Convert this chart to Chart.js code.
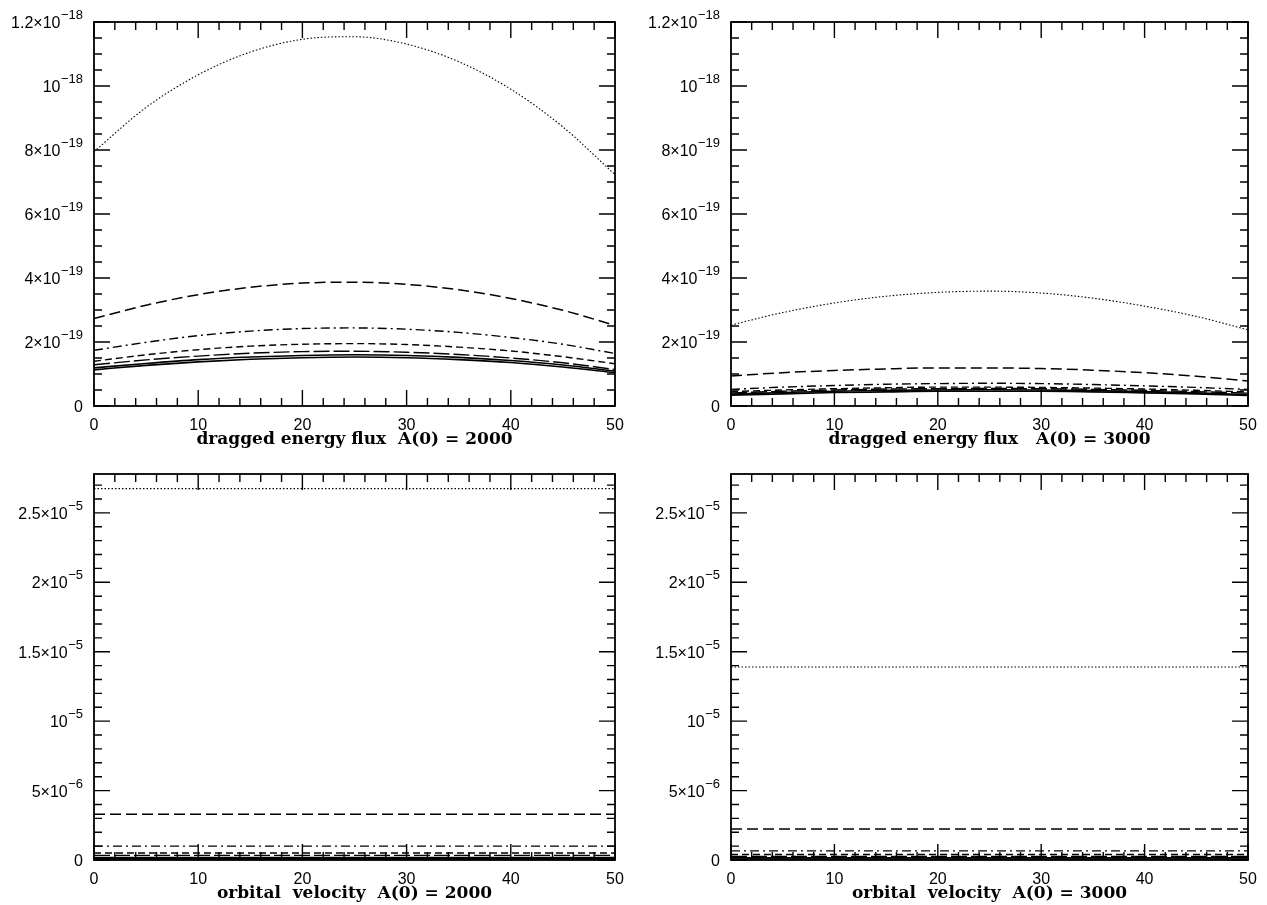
<!DOCTYPE html>
<html>
<head>
<meta charset="utf-8">
<script src="https://cdn.jsdelivr.net/npm/chart.js@4/dist/chart.umd.min.js"></script>
<style>
html,body{margin:0;padding:0;background:#fff;}
body{width:1267px;height:905px;position:relative;overflow:hidden;}
canvas{position:absolute;}
</style>
</head>
<body>
<canvas id="c1" width="633" height="450" style="left:0;top:0"></canvas>
<canvas id="c2" width="634" height="450" style="left:633px;top:0"></canvas>
<canvas id="c3" width="633" height="453" style="left:0;top:452px"></canvas>
<canvas id="c4" width="634" height="453" style="left:633px;top:452px"></canvas>
<script>
// ---------- DATA ----------
const xs = [0, 5, 10, 15, 20, 25, 30, 35, 40, 45, 50];

// Top-left: dragged energy flux, A(0)=2000 (units of 1e-19)
const fluxA2000_dotted   = [7.95, 9.33, 10.35, 11.06, 11.46, 11.54, 11.31, 10.76, 9.90, 8.72, 7.23];
const fluxA2000_dashed   = [2.73, 3.15, 3.48, 3.71, 3.84, 3.87, 3.80, 3.63, 3.36, 2.99, 2.52];
const fluxA2000_dashdot  = [1.74, 1.99, 2.20, 2.34, 2.42, 2.44, 2.40, 2.30, 2.14, 1.93, 1.64];
const fluxA2000_dashed2  = [1.40, 1.60, 1.76, 1.87, 1.93, 1.95, 1.92, 1.84, 1.72, 1.54, 1.32];
const fluxA2000_longdash = [1.29, 1.44, 1.56, 1.65, 1.70, 1.71, 1.68, 1.61, 1.50, 1.35, 1.14];
const fluxA2000_solid    = [1.19, 1.33, 1.45, 1.53, 1.58, 1.60, 1.58, 1.52, 1.42, 1.28, 1.09];
const fluxA2000_solid2   = [1.13, 1.27, 1.38, 1.46, 1.51, 1.53, 1.51, 1.45, 1.36, 1.22, 1.04];

// Top-right: dragged energy flux, A(0)=3000 (units of 1e-19)
const fluxA3000_dotted   = [2.53, 2.92, 3.22, 3.43, 3.55, 3.59, 3.53, 3.37, 3.12, 2.80, 2.38];
const fluxA3000_dashed   = [0.94, 1.04, 1.11, 1.16, 1.19, 1.19, 1.17, 1.12, 1.04, 0.93, 0.78];
const fluxA3000_dashdot  = [0.52, 0.59, 0.64, 0.68, 0.70, 0.71, 0.70, 0.67, 0.63, 0.58, 0.52];
const fluxA3000_dashed2  = [0.45, 0.50, 0.54, 0.57, 0.59, 0.59, 0.58, 0.56, 0.53, 0.49, 0.44];
const fluxA3000_longdash = [0.41, 0.46, 0.50, 0.53, 0.54, 0.55, 0.54, 0.52, 0.49, 0.45, 0.40];
const fluxA3000_solid    = [0.37, 0.42, 0.46, 0.49, 0.50, 0.51, 0.50, 0.48, 0.45, 0.41, 0.36];
const fluxA3000_solid2   = [0.34, 0.38, 0.42, 0.44, 0.46, 0.46, 0.46, 0.44, 0.41, 0.38, 0.33];

// Bottom-left: orbital velocity, A(0)=2000 (units of 1e-6)
const velA2000_dotted   = [26.75, 26.75, 26.75, 26.75, 26.75, 26.75, 26.75, 26.75, 26.75, 26.75, 26.75];
const velA2000_dashed   = [3.30, 3.30, 3.30, 3.30, 3.30, 3.30, 3.30, 3.30, 3.30, 3.30, 3.30];
const velA2000_dashdot  = [1.00, 1.00, 1.00, 1.00, 1.00, 1.00, 1.00, 1.00, 1.00, 1.00, 1.00];
const velA2000_dashed2  = [0.50, 0.50, 0.50, 0.50, 0.50, 0.50, 0.50, 0.50, 0.50, 0.50, 0.50];
const velA2000_longdash = [0.33, 0.33, 0.33, 0.33, 0.33, 0.33, 0.33, 0.33, 0.33, 0.33, 0.33];
const velA2000_solid    = [0.18, 0.18, 0.18, 0.18, 0.18, 0.18, 0.18, 0.18, 0.18, 0.18, 0.18];
const velA2000_solid2   = [0.08, 0.08, 0.08, 0.08, 0.08, 0.08, 0.08, 0.08, 0.08, 0.08, 0.08];

// Bottom-right: orbital velocity, A(0)=3000 (units of 1e-6)
const velA3000_dotted   = [13.9, 13.9, 13.9, 13.9, 13.9, 13.9, 13.9, 13.9, 13.9, 13.9, 13.9];
const velA3000_dashed   = [2.23, 2.23, 2.23, 2.23, 2.23, 2.23, 2.23, 2.23, 2.23, 2.23, 2.23];
const velA3000_dashdot  = [0.66, 0.66, 0.66, 0.66, 0.66, 0.66, 0.66, 0.66, 0.66, 0.66, 0.66];
const velA3000_dashed2  = [0.40, 0.40, 0.40, 0.40, 0.40, 0.40, 0.40, 0.40, 0.40, 0.40, 0.40];
const velA3000_longdash = [0.26, 0.26, 0.26, 0.26, 0.26, 0.26, 0.26, 0.26, 0.26, 0.26, 0.26];
const velA3000_solid    = [0.15, 0.15, 0.15, 0.15, 0.15, 0.15, 0.15, 0.15, 0.15, 0.15, 0.15];
const velA3000_solid2   = [0.07, 0.07, 0.07, 0.07, 0.07, 0.07, 0.07, 0.07, 0.07, 0.07, 0.07];

// Tick values / labels ("^" marks the exponent part)
const xTickValues = [0, 10, 20, 30, 40, 50];
const xTickLabels = ['0', '10', '20', '30', '40', '50'];
const fluxTickValues = [0, 2, 4, 6, 8, 10, 12];
const fluxTickLabels = ['0', '2×10^−19', '4×10^−19', '6×10^−19', '8×10^−19', '10^−18', '1.2×10^−18'];
const velTickValues = [0, 5, 10, 15, 20, 25];
const velTickLabels = ['0', '5×10^−6', '10^−5', '1.5×10^−5', '2×10^−5', '2.5×10^−5'];

const titles = [
  'dragged energy flux  A(0) = 2000',
  'dragged energy flux   A(0) = 3000',
  'orbital  velocity  A(0) = 2000',
  'orbital  velocity  A(0) = 3000'
];

// ---------- STYLE ----------
const styles = [
  {dash: [1.5, 2], w: 1.1},      // dotted
  {dash: [11, 5], w: 1.5},       // dashed
  {dash: [9, 4, 2, 4], w: 1.4},  // dash-dot
  {dash: [7, 4], w: 1.4},        // short dashed
  {dash: [16, 4], w: 1.4},       // long dashed
  {dash: [], w: 1.6},            // solid
  {dash: [], w: 1.6}             // solid
];

const FAMILY = '"Liberation Sans", Arial, sans-serif';
const tickFont = {family: FAMILY, size: 16};
const titleFont = {family: '"DejaVu Serif", serif', size: 17, weight: 'bold'};

const framePlugin = {
  id: 'frame',
  afterDraw(chart, args, opts) {
    const ctx = chart.ctx, a = chart.chartArea;
    const xs_ = chart.scales.x, ys_ = chart.scales.y;
    ctx.save();
    ctx.strokeStyle = '#000';
    ctx.lineWidth = 1.8;
    ctx.setLineDash([]);
    ctx.strokeRect(a.left, a.top, a.right - a.left, a.bottom - a.top);
    ctx.lineWidth = 1.4;
    ctx.beginPath();
    for (let v = xs_.min; v <= xs_.max + 1e-9; v += opts.xMinor) {
      const p = xs_.getPixelForValue(v);
      const major = Math.abs(v / opts.xMajor - Math.round(v / opts.xMajor)) < 1e-6;
      const L = major ? 16 : 8;
      ctx.moveTo(p, a.bottom); ctx.lineTo(p, a.bottom - L);
      ctx.moveTo(p, a.top); ctx.lineTo(p, a.top + L);
    }
    for (let v = ys_.min; v <= ys_.max + 1e-9; v += opts.yMinor) {
      const p = ys_.getPixelForValue(v);
      const major = Math.abs(v / opts.yMajor - Math.round(v / opts.yMajor)) < 1e-6;
      const L = major ? 16 : 8;
      ctx.moveTo(a.left, p); ctx.lineTo(a.left + L, p);
      ctx.moveTo(a.right, p); ctx.lineTo(a.right - L, p);
    }
    ctx.stroke();
    // y tick labels with raised exponents
    ctx.fillStyle = '#000';
    ctx.textBaseline = 'alphabetic';
    ys_.ticks.forEach(t => {
      const idx = opts.yValues.indexOf(t.value);
      if (idx < 0) return;
      const parts = opts.yLabels[idx].split('^');
      const p = ys_.getPixelForValue(t.value);
      let xr = a.left - 11;
      const baseY = p + 6;
      if (parts.length > 1) {
        ctx.font = '13px ' + FAMILY;
        const ew = ctx.measureText(parts[1]).width;
        ctx.textAlign = 'left';
        ctx.fillText(parts[1], xr - ew, baseY - 9);
        xr -= ew + 0.5;
      }
      ctx.font = '16px ' + FAMILY;
      ctx.textAlign = 'right';
      ctx.fillText(parts[0], xr, baseY);
    });
    ctx.restore();
  }
};

function makeChart(id, seriesList, yMax, yTickValues, yTickLabels, yMinor, yMajor, yWidth, xHeight, padRight, title, titleBottom) {
  const datasets = seriesList.map((s, i) => ({
    data: xs.map((x, j) => ({x: x, y: s[j]})),
    borderColor: '#000',
    borderWidth: styles[i].w,
    borderDash: styles[i].dash,
    pointRadius: 0,
    tension: 0.4,
    cubicInterpolationMode: 'monotone',
    fill: false
  }));
  return new Chart(document.getElementById(id), {
    type: 'line',
    data: {datasets},
    plugins: [framePlugin],
    options: {
      responsive: false,
      animation: false,
      layout: {padding: {top: 22, right: padRight, left: 0, bottom: 0}},
      plugins: {legend: {display: false}, tooltip: {enabled: false},
        frame: {xMinor: 2, xMajor: 10, yMinor: yMinor, yMajor: yMajor, yValues: yTickValues, yLabels: yTickLabels}},
      scales: {
        x: {
          type: 'linear', min: 0, max: 50,
          grid: {display: false}, border: {display: false},
          afterBuildTicks: s => { s.ticks = xTickValues.map(v => ({value: v})); },
          afterFit: s => { s.height = xHeight; },
          ticks: {
            color: '#000', font: tickFont, padding: 2, maxRotation: 0, autoSkip: false,
            callback: v => xTickLabels[xTickValues.indexOf(v)]
          },
          title: {display: true, text: title, color: '#000', font: titleFont, padding: {top: 0, bottom: titleBottom}}
        },
        y: {
          type: 'linear', min: 0, max: yMax,
          grid: {display: false}, border: {display: false},
          afterBuildTicks: s => { s.ticks = yTickValues.map(v => ({value: v})); },
          afterFit: s => { s.width = yWidth; },
          ticks: {display: false}
        }
      }
    }
  });
}

makeChart('c1',
  [fluxA2000_dotted, fluxA2000_dashed, fluxA2000_dashdot, fluxA2000_dashed2, fluxA2000_longdash, fluxA2000_solid, fluxA2000_solid2],
  12, fluxTickValues, fluxTickLabels, 0.5, 2, 94, 44, 18, titles[0], 0);
makeChart('c2',
  [fluxA3000_dotted, fluxA3000_dashed, fluxA3000_dashdot, fluxA3000_dashed2, fluxA3000_longdash, fluxA3000_solid, fluxA3000_solid2],
  12, fluxTickValues, fluxTickLabels, 0.5, 2, 98, 44, 19, titles[1], 0);
makeChart('c3',
  [velA2000_dotted, velA2000_dashed, velA2000_dashdot, velA2000_dashed2, velA2000_longdash, velA2000_solid, velA2000_solid2],
  27.8, velTickValues, velTickLabels, 1, 5, 94, 45, 18, titles[2], 1);
makeChart('c4',
  [velA3000_dotted, velA3000_dashed, velA3000_dashdot, velA3000_dashed2, velA3000_longdash, velA3000_solid, velA3000_solid2],
  27.8, velTickValues, velTickLabels, 1, 5, 98, 45, 19, titles[3], 1);
</script>
</body>
</html>
